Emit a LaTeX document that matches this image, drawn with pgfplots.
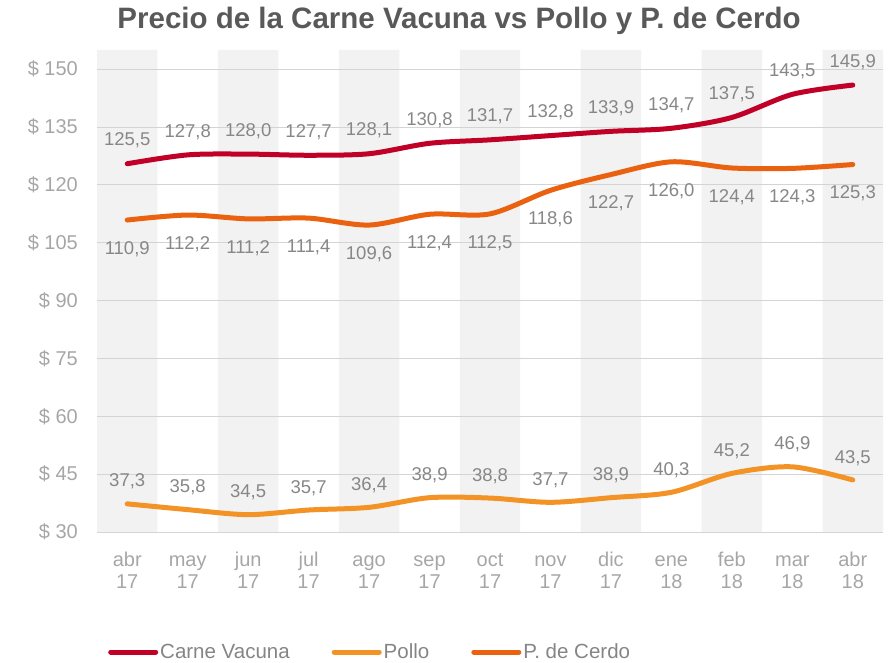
\documentclass[border=0pt]{standalone}
\usepackage{pgfplots}
\pgfplotsset{compat=1.18}
\usepackage{fontspec}
\setmainfont{Liberation Sans}
\definecolor{carne}{HTML}{C00026}
\definecolor{pollo}{HTML}{F39326}
\definecolor{cerdo}{HTML}{EA620F}
\definecolor{band}{HTML}{F2F2F2}
\definecolor{gridc}{HTML}{D4D4D4}
\definecolor{ticktxt}{HTML}{A6A6A6}
\definecolor{labtxt}{HTML}{878787}
\definecolor{titletxt}{HTML}{595959}
\pgfplotsset{
  lbl/.style={
    nodes near coords={\pgfmathprintnumber[fixed,fixed zerofill,precision=1,use comma]{\pgfplotspointmeta}},
    point meta=y,
    every node near coord/.append style={font=\fontsize{18.5}{22}\selectfont, text=labtxt, inner sep=0pt},
  }
}
\begin{document}
\begin{tikzpicture}
\begin{axis}[
  set layers,
  at={(97pt,129pt)}, anchor=south west,
  scale only axis, width=786pt, height=482pt,
  xmin=-0.5, xmax=12.5, ymin=30, ymax=155,
  ytick={30,45,...,150},
  xtick={0,...,12},
  xticklabels={\strut abr\\\strut 17,\strut may\\\strut 17,\strut jun\\\strut 17,\strut jul\\\strut 17,\strut ago\\\strut 17,\strut sep\\\strut 17,\strut oct\\\strut 17,\strut nov\\\strut 17,\strut dic\\\strut 17,\strut ene\\\strut 18,\strut feb\\\strut 18,\strut mar\\\strut 18,\strut abr\\\strut 18},
  /pgf/number format/assume math mode=true,
  yticklabel={\$ \pgfmathprintnumber[fixed,precision=0]{\tick}},
  ymajorgrids, grid style={gridc, line width=1pt},
  axis line style={draw=none},
  major tick length=0pt,
  yticklabel style={font=\fontsize{20}{24}\selectfont, text=ticktxt, anchor=east, inner sep=0pt, xshift=-19pt},
  xticklabel style={font=\fontsize{20}{22}\selectfont, text=ticktxt, align=center, anchor=north, inner sep=0pt, yshift=-19pt},
  title={Precio de la Carne Vacuna vs Pollo y P. de Cerdo},
  title style={font=\fontsize{29.5}{32}\selectfont\bfseries, text=titletxt, at={(rel axis cs:0.4606,1)}, anchor=base, inner sep=0pt, yshift=15pt},
  legend columns=3,
  legend style={draw=none, fill=none, at={(rel axis cs:0.014,-0.249)}, anchor=west, font=\fontsize{20.5}{24}\selectfont, text=ticktxt!80!black, inner sep=0pt,
    /tikz/every even column/.append style={column sep=40pt}},
  legend cell align=left,
  legend image code/.code={\draw[line width=5pt, line cap=round] (0pt,0pt) -- (45pt,0pt);},
]
\addplot[on layer=axis background, ybar, bar width=1, fill=band, draw=none, forget plot, bar shift=0pt]
  coordinates {(0,155) (2,155) (4,155) (6,155) (8,155) (10,155) (12,155)};
\addplot[carne, line width=5pt, line cap=round, smooth, tension=0.5, lbl,
  every node near coord/.append style={anchor=south, yshift=13pt}]
  coordinates {(0,125.5) (1,127.8) (2,128.0) (3,127.7) (4,128.1) (5,130.8) (6,131.7) (7,132.8) (8,133.9) (9,134.7) (10,137.5) (11,143.5) (12,145.9)};
\addlegendentry{Carne Vacuna}
\addplot[pollo, line width=5pt, line cap=round, smooth, tension=0.5, lbl,
  every node near coord/.append style={anchor=south, yshift=12pt}]
  coordinates {(0,37.3) (1,35.8) (2,34.5) (3,35.7) (4,36.4) (5,38.9) (6,38.8) (7,37.7) (8,38.9) (9,40.3) (10,45.2) (11,46.9) (12,43.5)};
\addlegendentry{Pollo}
\addplot[cerdo, line width=5pt, line cap=round, smooth, tension=0.5, lbl,
  every node near coord/.append style={anchor=north, yshift=-19pt}]
  coordinates {(0,110.9) (1,112.2) (2,111.2) (3,111.4) (4,109.6) (5,112.4) (6,112.5) (7,118.6) (8,122.7) (9,126.0) (10,124.4) (11,124.3) (12,125.3)};
\addlegendentry{P. de Cerdo}
\end{axis}
\path (0pt,0pt) rectangle (890pt,661pt);
\end{tikzpicture}
\end{document}
